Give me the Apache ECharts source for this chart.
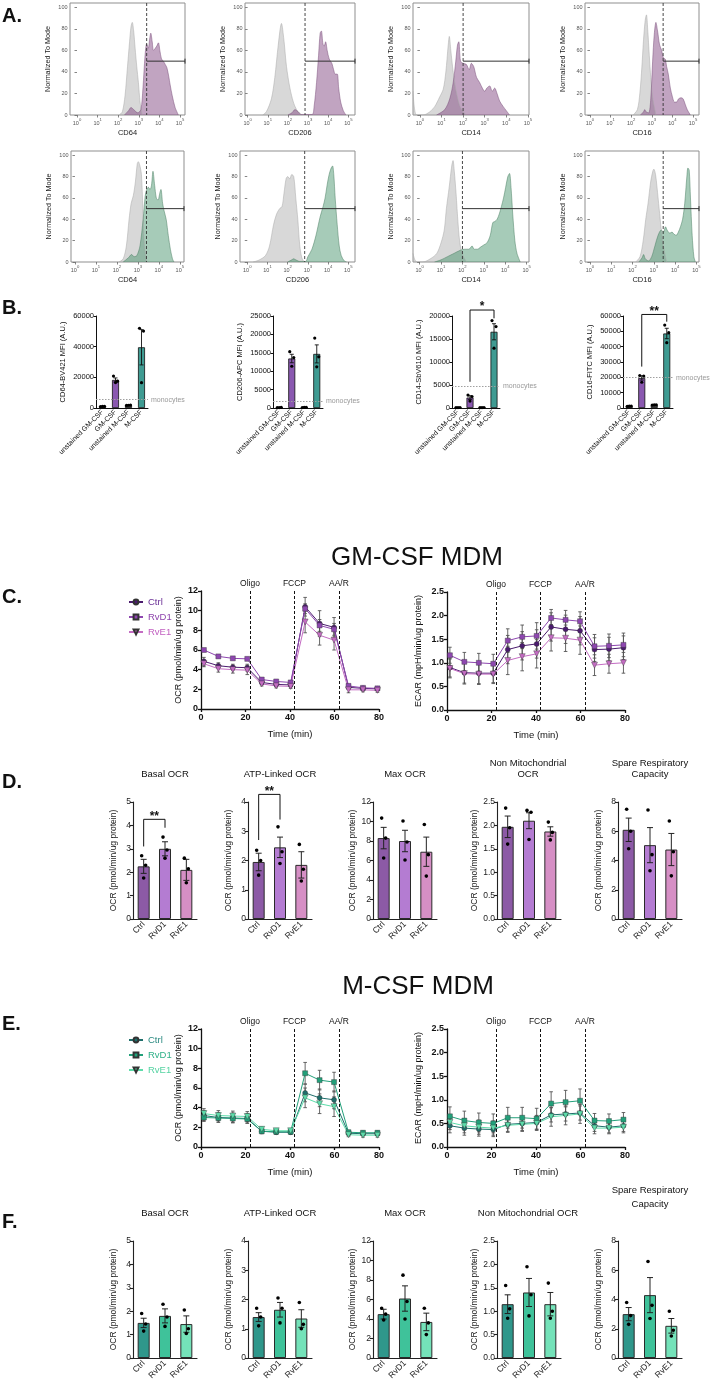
<!DOCTYPE html>
<html>
<head>
<meta charset="utf-8">
<script src="https://cdn.jsdelivr.net/npm/echarts@6/dist/echarts.min.js"></script>
<style>
  html, body { margin: 0; padding: 0; background: #fff; }
  #main { width: 710px; height: 1385px; }
</style>
</head>
<body>
<div id="main"></div>
<script>
// ---------------- data ----------------

// A: flow histograms, x = log10(fluorescence), y = % of mode
const histMarkers = ['CD64', 'CD206', 'CD14', 'CD16'];
const logDecades = [0, 1, 2, 3, 4, 5];
const modeTicks = [0, 20, 40, 60, 80, 100];
const gmHistRange = [[-0.34, 5.24], [-0.13, 5.33], [-0.32, 5.05], [-0.24, 5.29]];
const mHistRange = [[-0.19, 5.2], [-0.36, 5.33], [-0.31, 5.11], [-0.23, 5.12]];
const gmGates = [3.38, 2.85, 2.0, 3.55];
const mGates = [3.41, 2.84, 2.0, 3.44];
const gateLevel = 50;

const gmUnstainedCD64 = [[2.05, 0], [2.2, 3], [2.33, 18], [2.45, 45], [2.55, 68], [2.62, 82], [2.68, 86], [2.75, 78], [2.82, 62], [2.9, 45], [2.98, 30], [3.06, 12], [3.16, 0]];
const gmStainedCD64 = [[2.3, 0], [2.5, 4], [2.62, 7], [2.75, 5], [2.95, 2], [3.1, 5], [3.2, 25], [3.3, 55], [3.38, 66], [3.46, 62], [3.52, 70], [3.58, 76], [3.65, 68], [3.71, 60], [3.8, 62], [3.87, 64], [3.95, 67], [4.02, 60], [4.1, 52], [4.19, 50], [4.28, 47], [4.36, 44], [4.45, 36], [4.52, 28], [4.62, 18], [4.76, 7], [4.92, 0]];
const gmUnstainedCD206 = [[0.75, 0], [0.93, 3], [1.18, 15], [1.35, 35], [1.52, 65], [1.68, 85], [1.8, 70], [1.93, 45], [2.1, 25], [2.27, 12], [2.43, 5], [2.68, 0]];
const gmStainedCD206 = [[2.0, 0], [2.2, 2], [2.35, 5], [2.5, 3], [2.65, 0.5], [3.2, 0.5], [3.3, 8], [3.42, 30], [3.52, 55], [3.6, 76], [3.66, 78], [3.74, 66], [3.8, 64], [3.87, 68], [3.95, 60], [4.05, 52], [4.18, 48], [4.27, 42], [4.35, 38], [4.45, 38], [4.52, 25], [4.62, 12], [4.75, 4], [4.88, 0]];
const gmUnstainedCD14 = [[-0.32, 22], [-0.25, 6], [-0.15, 0], [0.15, 0], [0.46, 3], [0.69, 8], [0.8, 12], [0.92, 17], [1.08, 24], [1.2, 40], [1.31, 65], [1.36, 73], [1.43, 60], [1.54, 40], [1.66, 24], [1.82, 10], [2.0, 3], [2.15, 0]];
const gmStainedCD14 = [[0.77, 0], [1.15, 5], [1.38, 15], [1.54, 30], [1.66, 50], [1.74, 65], [1.8, 68], [1.88, 50], [2.0, 48], [2.15, 47], [2.28, 42], [2.38, 48], [2.49, 45], [2.62, 35], [2.77, 30], [2.89, 25], [3.0, 22], [3.1, 25], [3.23, 27], [3.35, 22], [3.46, 25], [3.57, 20], [3.69, 13], [3.85, 8], [4.0, 4], [4.15, 0]];
const gmUnstainedCD16 = [[2.1, 0], [2.3, 5], [2.42, 20], [2.52, 45], [2.6, 70], [2.68, 88], [2.74, 93], [2.8, 80], [2.88, 55], [2.95, 35], [3.05, 15], [3.2, 0]];
const gmStainedCD16 = [[2.45, 0], [2.6, 3], [2.66, 5], [2.72, 3], [2.85, 2], [2.95, 15], [3.04, 50], [3.12, 75], [3.2, 86], [3.28, 78], [3.38, 65], [3.48, 60], [3.56, 53], [3.65, 52], [3.72, 45], [3.8, 38], [3.9, 25], [4.0, 17], [4.1, 12], [4.2, 12], [4.3, 15], [4.42, 16], [4.52, 15], [4.62, 10], [4.72, 5], [4.87, 0]];

const mUnstainedCD64 = [[2.1, 0], [2.3, 3], [2.45, 15], [2.58, 40], [2.68, 55], [2.78, 62], [2.88, 75], [2.97, 92], [3.02, 94], [3.1, 90], [3.17, 82], [3.24, 50], [3.32, 15], [3.42, 0]];
const mStainedCD64 = [[2.3, 0], [2.55, 4], [2.7, 7], [2.82, 5], [2.95, 6], [3.1, 15], [3.25, 40], [3.35, 62], [3.42, 68], [3.5, 70], [3.58, 68], [3.65, 72], [3.72, 85], [3.8, 72], [3.88, 60], [3.96, 58], [4.05, 65], [4.1, 68], [4.18, 55], [4.25, 48], [4.35, 40], [4.45, 25], [4.55, 12], [4.65, 3], [4.72, 0]];
const mUnstainedCD206 = [[0.3, 0], [0.6, 2], [0.9, 6], [1.1, 15], [1.3, 35], [1.45, 45], [1.6, 50], [1.72, 52], [1.82, 65], [1.92, 78], [2.0, 80], [2.1, 78], [2.2, 82], [2.3, 80], [2.4, 60], [2.5, 40], [2.6, 15], [2.7, 4], [2.82, 0]];
const mStainedCD206 = [[2.0, 0], [2.2, 2], [2.3, 3], [2.4, 2], [2.6, 0.5], [2.88, 0.5], [3.0, 5], [3.2, 12], [3.4, 25], [3.6, 42], [3.75, 52], [3.85, 60], [3.95, 72], [4.05, 82], [4.15, 88], [4.22, 90], [4.28, 82], [4.35, 60], [4.45, 35], [4.55, 15], [4.65, 6], [4.8, 1], [4.92, 0]];
const mUnstainedCD14 = [[-0.31, 8], [-0.22, 2], [-0.12, 0], [0.15, 0], [0.5, 3], [0.8, 8], [1.0, 18], [1.15, 30], [1.25, 50], [1.38, 70], [1.5, 90], [1.56, 95], [1.62, 85], [1.7, 65], [1.8, 35], [1.9, 15], [2.05, 5], [2.2, 0]];
const mStainedCD14 = [[0.7, 0], [1.0, 2], [1.3, 5], [1.6, 8], [1.9, 11], [2.1, 12], [2.3, 12], [2.45, 15], [2.55, 12], [2.7, 12], [2.85, 14], [3.0, 16], [3.15, 18], [3.3, 25], [3.42, 37], [3.52, 38], [3.62, 40], [3.72, 45], [3.82, 52], [3.92, 60], [4.02, 70], [4.12, 80], [4.2, 83], [4.27, 70], [4.35, 45], [4.45, 20], [4.55, 8], [4.7, 0]];
const mUnstainedCD16 = [[2.15, 0], [2.35, 5], [2.5, 20], [2.62, 40], [2.73, 55], [2.85, 75], [2.95, 85], [3.0, 87], [3.08, 82], [3.15, 70], [3.25, 50], [3.35, 30], [3.45, 15], [3.6, 0]];
const mStainedCD16 = [[2.3, 0], [2.45, 4], [2.52, 7], [2.6, 3], [2.75, 1], [2.9, 5], [3.05, 15], [3.2, 25], [3.35, 30], [3.45, 28], [3.55, 33], [3.62, 30], [3.75, 27], [3.85, 28], [3.95, 26], [4.05, 25], [4.15, 28], [4.25, 33], [4.35, 40], [4.45, 55], [4.55, 80], [4.6, 88], [4.66, 86], [4.72, 60], [4.8, 25], [4.88, 5], [4.95, 0]];

// B: MFI bar charts
const mfiCategories = ['unstained GM-CSF', 'GM-CSF', 'unstained M-CSF', 'M-CSF'];
const mfiTitles = ['CD64-BV421 MFI (A.U.)', 'CD206-APC MFI (A.U.)', 'CD14-SbV610 MFI (A.U.)', 'CD16-FITC MFI (A.U.)'];
const mfiMax = [60000, 25000, 20000, 60000];
const mfiStep = [20000, 5000, 5000, 10000];
const cd64Mfi = [1000, 18300, 1800, 39600];
const cd64Sem = [150, 1300, 150, 11500];
const cd64Dots = [[900, 1100, 1000], [20800, 17500, 16600], [1700, 1900, 1800], [52000, 50200, 16500]];
const cd206Mfi = [120, 13450, 150, 14700];
const cd206Sem = [30, 1150, 40, 2450];
const cd206Dots = [[100, 150, 110], [15300, 13700, 11350], [130, 170, 150], [19000, 13900, 11200]];
const cd14Mfi = [100, 2270, 100, 16570];
const cd14Sem = [20, 400, 20, 1750];
const cd14Dots = [[90, 110, 100], [2800, 2500, 1500], [90, 110, 100], [19000, 17700, 13000]];
const cd16Mfi = [1200, 19600, 2000, 48600];
const cd16Sem = [100, 1400, 150, 3400];
const cd16Dots = [[1100, 1300, 1200], [21200, 20800, 16800], [1900, 2100, 2000], [54100, 49100, 42600]];
const monocyteMfi = [5500, 1750, 4800, 19800];
const cd14Signif = {from: 1, to: 3, top: 21300, left: 5700, right: 19500, mark: '*'};
const cd16Signif = {from: 1, to: 3, top: 61000, left: 27000, right: 56300, mark: '**'};

// C / E: Seahorse kinetics
const seahorseTimes = [1.3, 7.8, 14.3, 20.8, 27.3, 33.8, 40.3, 46.8, 53.3, 59.8, 66.3, 72.8, 79.3];
const injectionTimes = [22, 42, 62];
const injectionLabels = ['Oligo', 'FCCP', 'AA/R'];
const treatments = ['Ctrl', 'RvD1', 'RvE1'];

const gmOcrCtrl = [4.85, 4.4, 4.25, 4.2, 2.7, 2.5, 2.45, 10.4, 8.7, 8.3, 2.2, 2.1, 2.05];
const gmOcrRvD1 = [6.0, 5.35, 5.15, 5.1, 3.0, 2.8, 2.7, 10.2, 8.5, 8.1, 2.35, 2.15, 2.1];
const gmOcrRvE1 = [4.6, 4.1, 4.0, 3.95, 2.55, 2.35, 2.3, 8.85, 7.5, 7.0, 1.95, 1.95, 1.9];
const gmOcrCtrlSem = [0.4, 0.3, 0.3, 0.35, 0.2, 0.2, 0.2, 0.95, 1.3, 1.0, 0.2, 0.15, 0.15];
const gmOcrRvD1Sem = [0.15, 0.15, 0.12, 0.15, 0.2, 0.15, 0.15, 0.5, 0.6, 0.6, 0.15, 0.12, 0.12];
const gmOcrRvE1Sem = [0.3, 0.35, 0.35, 0.45, 0.2, 0.2, 0.2, 1.1, 1.0, 1.0, 0.3, 0.2, 0.2];
const gmEcarCtrl = [0.9, 0.79, 0.78, 0.78, 1.28, 1.36, 1.4, 1.76, 1.71, 1.68, 1.28, 1.29, 1.32];
const gmEcarRvD1 = [1.16, 1.02, 1.0, 0.98, 1.47, 1.55, 1.57, 1.95, 1.91, 1.88, 1.35, 1.36, 1.38];
const gmEcarRvE1 = [0.88, 0.77, 0.76, 0.76, 1.05, 1.13, 1.19, 1.53, 1.52, 1.48, 0.95, 0.98, 1.0];
const gmEcarCtrlSem = [0.2, 0.22, 0.22, 0.2, 0.3, 0.3, 0.3, 0.3, 0.3, 0.3, 0.25, 0.25, 0.25];
const gmEcarRvD1Sem = [0.17, 0.2, 0.2, 0.2, 0.25, 0.25, 0.28, 0.18, 0.2, 0.2, 0.25, 0.25, 0.25];
const gmEcarRvE1Sem = [0.2, 0.22, 0.22, 0.2, 0.3, 0.3, 0.3, 0.28, 0.28, 0.3, 0.22, 0.2, 0.22];

const mOcrCtrl = [3.2, 3.0, 2.95, 2.9, 1.6, 1.5, 1.5, 5.5, 5.0, 4.8, 1.4, 1.35, 1.35];
const mOcrRvD1 = [3.0, 2.95, 2.9, 2.85, 1.6, 1.55, 1.55, 7.5, 6.8, 6.6, 1.5, 1.45, 1.45];
const mOcrRvE1 = [3.4, 3.2, 3.15, 3.1, 1.8, 1.65, 1.65, 5.0, 4.4, 4.1, 1.25, 1.2, 1.2];
const mOcrCtrlSem = [0.5, 0.5, 0.5, 0.5, 0.25, 0.2, 0.2, 0.9, 0.9, 0.9, 0.2, 0.2, 0.2];
const mOcrRvD1Sem = [0.4, 0.4, 0.4, 0.4, 0.2, 0.2, 0.2, 1.1, 1.0, 1.0, 0.2, 0.2, 0.2];
const mOcrRvE1Sem = [0.5, 0.5, 0.5, 0.5, 0.25, 0.2, 0.2, 1.0, 1.0, 1.0, 0.2, 0.2, 0.2];
const mEcarCtrl = [0.45, 0.4, 0.38, 0.37, 0.48, 0.5, 0.52, 0.68, 0.7, 0.72, 0.45, 0.42, 0.45];
const mEcarRvD1 = [0.65, 0.56, 0.52, 0.5, 0.62, 0.62, 0.6, 0.92, 0.95, 0.98, 0.56, 0.55, 0.58];
const mEcarRvE1 = [0.52, 0.45, 0.42, 0.4, 0.46, 0.48, 0.5, 0.64, 0.67, 0.7, 0.4, 0.4, 0.42];
const mEcarCtrlSem = [0.15, 0.15, 0.15, 0.15, 0.15, 0.15, 0.15, 0.15, 0.15, 0.15, 0.12, 0.12, 0.12];
const mEcarRvD1Sem = [0.2, 0.2, 0.2, 0.2, 0.22, 0.22, 0.22, 0.25, 0.25, 0.25, 0.15, 0.15, 0.15];
const mEcarRvE1Sem = [0.15, 0.15, 0.15, 0.15, 0.15, 0.15, 0.15, 0.2, 0.2, 0.2, 0.12, 0.12, 0.12];

// D / F: derived OCR parameters
const paramTitles = ['Basal OCR', 'ATP-Linked OCR', 'Max OCR', 'Non Mitochondrial\nOCR', 'Spare Respiratory\nCapacity'];
const paramTitlesM = ['Basal OCR', 'ATP-Linked OCR', 'Max OCR', 'Non Mitochondrial OCR', 'Spare Respiratory\nCapacity'];
const paramMax = [5, 4, 12, 2.5, 8];
const paramStep = [1, 1, 2, 0.5, 2];

const gmBasal = [2.25, 3.0, 2.1], gmBasalSem = [0.3, 0.3, 0.45];
const gmBasalDots = [[2.7, 2.3, 1.75], [3.5, 2.95, 2.6], [2.6, 2.15, 1.55]];
const gmAtp = [1.95, 2.45, 1.85], gmAtpSem = [0.3, 0.35, 0.45];
const gmAtpDots = [[2.35, 2.0, 1.5], [3.15, 2.3, 1.9], [2.55, 1.7, 1.3]];
const gmMax = [8.3, 8.0, 6.9], gmMaxSem = [1.1, 1.1, 1.5];
const gmMaxDots = [[10.35, 8.3, 6.25], [10.05, 7.9, 6.05], [9.7, 6.6, 4.4]];
const gmNonMito = [1.97, 2.1, 1.87], gmNonMitoSem = [0.23, 0.17, 0.1];
const gmNonMitoDots = [[2.37, 1.95, 1.6], [2.32, 2.28, 1.7], [2.07, 1.85, 1.69]];
const gmSpare = [6.1, 5.05, 4.75], gmSpareSem = [0.8, 1.2, 1.1];
const gmSpareDots = [[7.5, 6.0, 4.8], [7.45, 4.4, 3.3], [6.7, 4.6, 2.95]];
const gmBasalSignif = {from: 0, to: 1, top: 4.26, left: 3.1, right: 3.9, mark: '**'};
const gmAtpSignif = {from: 0, to: 1, top: 4.26, left: 2.7, right: 3.4, mark: '**'};

const mBasal = [1.5, 1.8, 1.45], mBasalSem = [0.2, 0.3, 0.35];
const mBasalDots = [[1.9, 1.45, 1.15], [2.3, 1.75, 1.35], [2.05, 1.25, 1.05]];
const mAtp = [1.4, 1.65, 1.35], mAtpSem = [0.15, 0.25, 0.3];
const mAtpDots = [[1.7, 1.4, 1.1], [2.05, 1.7, 1.2], [1.9, 1.15, 1.0]];
const mMax = [4.5, 6.1, 3.7], mMaxSem = [0.5, 1.3, 0.9];
const mMaxDots = [[5.1, 4.5, 3.9], [8.5, 5.8, 4.0], [5.1, 3.6, 2.4]];
const mNonMito = [1.15, 1.4, 1.15], mNonMitoSem = [0.2, 0.3, 0.25];
const mNonMitoDots = [[1.55, 1.05, 0.85], [1.95, 1.35, 0.9], [1.6, 1.0, 0.85]];
const mSpare = [3.0, 4.3, 2.2], mSpareSem = [0.45, 1.2, 0.5];
const mSpareDots = [[3.8, 2.9, 2.3], [6.6, 3.6, 2.7], [3.2, 1.9, 1.5]];

// ---------------- styles / layout ----------------
const FONT = '"Liberation Sans", Arial, Helvetica, sans-serif';
const GM_FILL = 'rgba(128,70,128,0.7)', GM_EDGE = '#7a4f7a';
const M_FILL = 'rgba(60,140,100,0.65)', M_EDGE = '#4a7f62';
const mfiColors = ['#4d4d4d', '#8a58b0', '#4d4d4d', '#3f9b92'];
const gmLineColors = ['#4b1b6e', '#8e47b0', '#c46cc3'];
const gmLegendText = ['#6a2f96', '#8e44ad', '#c15fc0'];
const mLineColors = ['#1e6e6b', '#22a07a', '#5ddcaa'];
const mLegendText = ['#2a8a80', '#2fb088', '#55d3a2'];
const gmBarColors = ['#8c5aa6', '#b47cd2', '#d68fc5'];
const mBarColors = ['#2f978b', '#3fc29a', '#74e2b9'];
const lineSymbols = ['circle', 'rect', 'triangle'];
const lineSymbolRotate = [0, 0, 180];
const dotJitter = [-2, 2, 0];

const grid = [], xAxis = [], yAxis = [], series = [], graphic = [];

function addGrid(g, xa, ya) {
  const i = grid.length;
  grid.push(g);
  xAxis.push(Object.assign({gridIndex: i}, xa));
  yAxis.push(Object.assign({gridIndex: i}, ya));
  return i;
}

function errorBars(i, data, color, cap, width, z) {
  return {
    type: 'custom', xAxisIndex: i, yAxisIndex: i, silent: true, z: z, data: data,
    renderItem: (params, api) => {
      const lo = api.coord([api.value(0), api.value(1)]);
      const hi = api.coord([api.value(0), api.value(2)]);
      const st = {stroke: color, lineWidth: width};
      return {type: 'group', children: [
        {type: 'line', shape: {x1: lo[0], y1: lo[1], x2: hi[0], y2: hi[1]}, style: st},
        {type: 'line', shape: {x1: hi[0] - cap, y1: hi[1], x2: hi[0] + cap, y2: hi[1]}, style: st},
        {type: 'line', shape: {x1: lo[0] - cap, y1: lo[1], x2: lo[0] + cap, y2: lo[1]}, style: st}
      ]};
    }
  };
}

function dotSeries(i, dots, r) {
  const data = [];
  dots.forEach((vals, k) => vals.forEach((v, j) => data.push([k, v, j])));
  return {
    type: 'custom', xAxisIndex: i, yAxisIndex: i, silent: true, z: 6, data: data,
    renderItem: (params, api) => {
      const c = api.coord([api.value(0), api.value(1)]);
      return {type: 'circle', shape: {cx: c[0] + dotJitter[api.value(2)], cy: c[1], r: r}, style: {fill: '#000'}};
    }
  };
}

function bracketSeries(i, b) {
  return {
    type: 'custom', xAxisIndex: i, yAxisIndex: i, silent: true, z: 7, clip: false,
    data: [[b.from, b.to, b.top, b.left, b.right]],
    renderItem: (params, api) => {
      const a = api.coord([api.value(0), api.value(3)]);
      const t1 = api.coord([api.value(0), api.value(2)]);
      const t2 = api.coord([api.value(1), api.value(2)]);
      const c = api.coord([api.value(1), api.value(4)]);
      return {type: 'group', children: [
        {type: 'polyline', shape: {points: [a, t1, t2, c]}, style: {stroke: '#111', lineWidth: 1, fill: null}},
        {type: 'text', style: {text: b.mark, x: (t1[0] + t2[0]) / 2, y: t1[1] + 3, align: 'center', verticalAlign: 'bottom',
          fontFamily: FONT, fontSize: 12, fontWeight: 'bold', fill: '#111'}}
      ]};
    }
  };
}

// ---- A: histograms ----
const supRich = {
  b: {fontFamily: FONT, fontSize: 5.5, color: '#555', lineHeight: 9, verticalAlign: 'bottom'},
  s: {fontFamily: FONT, fontSize: 4.2, color: '#555', lineHeight: 9, verticalAlign: 'top'}
};

function histogram(box, range, marker, unstained, stained, gate, fill, edge) {
  const i = addGrid(
    {left: box[0], top: box[1], width: box[2], height: box[3], show: true, borderColor: '#8f8f8f', borderWidth: 1},
    {type: 'value', min: range[0], max: range[1], name: marker, nameLocation: 'middle', nameGap: 14,
      nameTextStyle: {fontFamily: FONT, fontSize: 7.5, color: '#222'},
      axisLine: {show: false}, splitLine: {show: false},
      axisTick: {show: true, customValues: logDecades, length: 2.5, lineStyle: {color: '#666', width: 0.8}},
      axisLabel: {customValues: logDecades, margin: 2.5, formatter: v => '{b|10}{s|' + v + '}', rich: supRich}},
    {type: 'value', min: 0, max: 104, name: 'Normalized To Mode', nameLocation: 'middle', nameGap: 18,
      nameTextStyle: {fontFamily: FONT, fontSize: 7.2, color: '#222'},
      axisLine: {show: false}, splitLine: {show: false},
      axisTick: {show: true, customValues: modeTicks, length: 2.5, lineStyle: {color: '#666', width: 0.8}},
      axisLabel: {customValues: modeTicks, margin: 2.5, fontFamily: FONT, fontSize: 5.5, color: '#555'}}
  );
  series.push({type: 'line', xAxisIndex: i, yAxisIndex: i, data: unstained, smooth: 0.3, symbol: 'none', silent: true,
    lineStyle: {color: '#a8a8a8', width: 0.5}, areaStyle: {color: 'rgba(170,170,170,0.65)'}});
  series.push({type: 'line', xAxisIndex: i, yAxisIndex: i, data: stained, smooth: 0.3, symbol: 'none', silent: true,
    lineStyle: {color: edge, width: 0.5}, areaStyle: {color: fill}});
  series.push({
    type: 'custom', xAxisIndex: i, yAxisIndex: i, silent: true, z: 5, data: [[gate, gateLevel]],
    renderItem: (params, api) => {
      const cs = params.coordSys;
      const p = api.coord([api.value(0), api.value(1)]);
      const right = cs.x + cs.width;
      const st = {stroke: '#333', lineWidth: 1};
      return {type: 'group', children: [
        {type: 'line', shape: {x1: p[0], y1: cs.y, x2: p[0], y2: cs.y + cs.height}, style: {stroke: '#333', lineWidth: 0.9, lineDash: [3, 2]}},
        {type: 'line', shape: {x1: p[0], y1: p[1], x2: right, y2: p[1]}, style: st},
        {type: 'line', shape: {x1: right, y1: p[1] - 2.5, x2: right, y2: p[1] + 2.5}, style: st}
      ]};
    }
  });
}

const gmHistData = [[gmUnstainedCD64, gmStainedCD64], [gmUnstainedCD206, gmStainedCD206], [gmUnstainedCD14, gmStainedCD14], [gmUnstainedCD16, gmStainedCD16]];
const mHistData = [[mUnstainedCD64, mStainedCD64], [mUnstainedCD206, mStainedCD206], [mUnstainedCD14, mStainedCD14], [mUnstainedCD16, mStainedCD16]];
const histTopBoxes = [[70, 3, 115, 112], [245, 3, 110, 112], [413, 3, 116, 112], [585, 3, 114, 112]];
const histBottomBoxes = [[71, 151, 113, 111], [240, 151, 115, 111], [413, 151, 116, 111], [585, 151, 114, 111]];
histMarkers.forEach((m, k) => {
  histogram(histTopBoxes[k], gmHistRange[k], m, gmHistData[k][0], gmHistData[k][1], gmGates[k], GM_FILL, GM_EDGE);
});
histMarkers.forEach((m, k) => {
  histogram(histBottomBoxes[k], mHistRange[k], m, mHistData[k][0], mHistData[k][1], mGates[k], M_FILL, M_EDGE);
});

// ---- B: MFI bars ----
const mfiMeans = [cd64Mfi, cd206Mfi, cd14Mfi, cd16Mfi];
const mfiSems = [cd64Sem, cd206Sem, cd14Sem, cd16Sem];
const mfiDots = [cd64Dots, cd206Dots, cd14Dots, cd16Dots];
const mfiSignif = [null, null, cd14Signif, cd16Signif];
const mfiBoxes = [[96, 52], [273, 50], [452, 48], [623, 50]];

mfiTitles.forEach((title, k) => {
  const i = addGrid(
    {left: mfiBoxes[k][0], top: 316, width: mfiBoxes[k][1], height: 92},
    {type: 'category', data: mfiCategories,
      axisLine: {lineStyle: {color: '#111', width: 1}},
      axisTick: {alignWithLabel: true, length: 2.5, lineStyle: {color: '#111'}},
      axisLabel: {rotate: 45, interval: 0, margin: 3, fontFamily: FONT, fontSize: 7, color: '#111'}},
    {type: 'value', min: 0, max: mfiMax[k], interval: mfiStep[k], name: title, nameLocation: 'middle', nameGap: 29,
      nameTextStyle: {fontFamily: FONT, fontSize: 7.5, color: '#111'},
      axisLine: {show: true, lineStyle: {color: '#111', width: 1}},
      axisTick: {show: true, length: 2.5, lineStyle: {color: '#111'}},
      axisLabel: {margin: 2, fontFamily: FONT, fontSize: 7.5, color: '#111', formatter: v => String(v)},
      splitLine: {show: false}}
  );
  series.push({
    type: 'bar', xAxisIndex: i, yAxisIndex: i, barWidth: 7, silent: true,
    data: mfiMeans[k].map((v, j) => ({value: v, itemStyle: {color: mfiColors[j]}})),
    itemStyle: {borderColor: '#111', borderWidth: 0.8},
    markLine: {silent: true, symbol: 'none', data: [{yAxis: monocyteMfi[k]}],
      lineStyle: {type: [1.5, 1.5], color: '#a0a0a0', width: 1},
      label: {show: true, position: 'end', formatter: 'monocytes', distance: 3, fontFamily: FONT, fontSize: 7, color: '#999'}}
  });
  series.push(errorBars(i, mfiMeans[k].map((v, j) => [j, v - mfiSems[k][j], v + mfiSems[k][j]]), '#111', 2, 0.9, 5));
  series.push(dotSeries(i, mfiDots[k], 1.6));
  if (mfiSignif[k]) series.push(bracketSeries(i, mfiSignif[k]));
});

// ---- C / E: kinetics ----
function kinetic(left, top, yMax, yStep, yName, nameGap, names, vals, sems, colors, decimals) {
  const i = addGrid(
    {left: left, top: top, width: 178, height: 118},
    {type: 'value', min: 0, max: 80, interval: 20, name: 'Time (min)', nameLocation: 'middle', nameGap: 20,
      nameTextStyle: {fontFamily: FONT, fontSize: 9.5, color: '#111'},
      axisLine: {lineStyle: {color: '#111', width: 1.3}},
      axisTick: {length: 3, lineStyle: {color: '#111', width: 1.3}},
      axisLabel: {fontFamily: FONT, fontSize: 9, fontWeight: 'bold', color: '#111', margin: 4}, splitLine: {show: false}},
    {type: 'value', min: 0, max: yMax, interval: yStep, name: yName, nameLocation: 'middle', nameGap: nameGap,
      nameTextStyle: {fontFamily: FONT, fontSize: 9, color: '#111'},
      axisLine: {show: true, lineStyle: {color: '#111', width: 1.3}},
      axisTick: {show: true, length: 3, lineStyle: {color: '#111', width: 1.3}},
      axisLabel: {fontFamily: FONT, fontSize: 9, fontWeight: 'bold', color: '#111', margin: 3,
        formatter: v => decimals ? v.toFixed(1) : String(v)}, splitLine: {show: false}}
  );
  vals.forEach((v, k) => {
    series.push(errorBars(i, seahorseTimes.map((t, j) => [t, v[j] - sems[k][j], v[j] + sems[k][j]]), '#555', 1.8, 0.9, 2));
    const s = {
      type: 'line', name: names[k], xAxisIndex: i, yAxisIndex: i, z: 3,
      data: seahorseTimes.map((t, j) => [t, v[j]]),
      symbol: lineSymbols[k], symbolSize: k === 2 ? 6 : 5, symbolRotate: lineSymbolRotate[k],
      lineStyle: {color: colors[k], width: 1}, itemStyle: {color: colors[k], borderColor: '#333', borderWidth: 0.4}
    };
    if (k === 0) {
      s.markLine = {silent: true, symbol: 'none',
        data: injectionTimes.map((t, j) => ({xAxis: t, label: {formatter: injectionLabels[j]}})),
        lineStyle: {type: [3, 2], color: '#111', width: 1},
        label: {show: true, position: 'end', distance: 3, fontFamily: FONT, fontSize: 8.5, color: '#111'}};
    }
    series.push(s);
  });
  return i;
}

const gmNames = ['Ctrl', 'RvD1', 'RvE1'];
const mNames = ['Ctrl ', 'RvD1 ', 'RvE1 '];
kinetic(201, 591, 12, 2, 'OCR (pmol/min/ug protein)', 18, gmNames,
  [gmOcrCtrl, gmOcrRvD1, gmOcrRvE1], [gmOcrCtrlSem, gmOcrRvD1Sem, gmOcrRvE1Sem], gmLineColors, false);
kinetic(447, 592, 2.5, 0.5, 'ECAR (mpH/min/ug protein)', 24, gmNames,
  [gmEcarCtrl, gmEcarRvD1, gmEcarRvE1], [gmEcarCtrlSem, gmEcarRvD1Sem, gmEcarRvE1Sem], gmLineColors, true);
kinetic(201, 1029, 12, 2, 'OCR (pmol/min/ug protein)', 18, mNames,
  [mOcrCtrl, mOcrRvD1, mOcrRvE1], [mOcrCtrlSem, mOcrRvD1Sem, mOcrRvE1Sem], mLineColors, false);
kinetic(447, 1029, 2.5, 0.5, 'ECAR (mpH/min/ug protein)', 24, mNames,
  [mEcarCtrl, mEcarRvD1, mEcarRvE1], [mEcarCtrlSem, mEcarRvD1Sem, mEcarRvE1Sem], mLineColors, true);

// ---- D / F: parameter bars ----
const paramLefts = [133, 248, 373, 497, 618];
function paramPanel(k, top, vals, sem, dots, colors, signif) {
  const i = addGrid(
    {left: paramLefts[k], top: top, width: 64, height: 117},
    {type: 'category', data: treatments,
      axisLine: {lineStyle: {color: '#222', width: 1.1}},
      axisTick: {alignWithLabel: true, length: 3, lineStyle: {color: '#222', width: 1.1}},
      axisLabel: {rotate: 45, interval: 0, margin: 4, fontFamily: FONT, fontSize: 8.5, color: '#222'}},
    {type: 'value', min: 0, max: paramMax[k], interval: paramStep[k], name: 'OCR (pmol/min/ug protein)',
      nameLocation: 'middle', nameGap: 15, nameTextStyle: {fontFamily: FONT, fontSize: 8.5, color: '#222'},
      axisLine: {show: true, lineStyle: {color: '#222', width: 1.1}},
      axisTick: {show: true, length: 3, lineStyle: {color: '#222', width: 1.1}},
      axisLabel: {margin: 2, fontFamily: FONT, fontSize: 8.5, color: '#222',
        formatter: v => paramStep[k] < 1 ? v.toFixed(1) : String(v)}, splitLine: {show: false}}
  );
  series.push({type: 'bar', xAxisIndex: i, yAxisIndex: i, barWidth: 12, silent: true,
    data: vals.map((v, j) => ({value: v, itemStyle: {color: colors[j]}})),
    itemStyle: {borderColor: '#2a2a2a', borderWidth: 1}});
  series.push(errorBars(i, vals.map((v, j) => [j, v - sem[j], v + sem[j]]), '#222', 3, 1, 5));
  series.push(dotSeries(i, dots, 1.8));
  if (signif) series.push(bracketSeries(i, signif));
}

[[gmBasal, gmBasalSem, gmBasalDots, gmBasalSignif], [gmAtp, gmAtpSem, gmAtpDots, gmAtpSignif],
 [gmMax, gmMaxSem, gmMaxDots, null], [gmNonMito, gmNonMitoSem, gmNonMitoDots, null],
 [gmSpare, gmSpareSem, gmSpareDots, null]].forEach((p, k) => paramPanel(k, 802, p[0], p[1], p[2], gmBarColors, p[3]));
[[mBasal, mBasalSem, mBasalDots], [mAtp, mAtpSem, mAtpDots], [mMax, mMaxSem, mMaxDots],
 [mNonMito, mNonMitoSem, mNonMitoDots], [mSpare, mSpareSem, mSpareDots]].forEach((p, k) => paramPanel(k, 1241, p[0], p[1], p[2], mBarColors, null));

// ---- text ----
function label(text, x, y, size, opts) {
  graphic.push({type: 'text', x: x, y: y, silent: true, style: Object.assign({
    text: text, fontFamily: FONT, fontSize: size, fill: '#111', align: 'left', verticalAlign: 'middle'}, opts || {})});
}
label('A.', 2, 16, 20, {fontWeight: 'bold'});
label('B.', 2, 308, 20, {fontWeight: 'bold'});
label('C.', 2, 597, 20, {fontWeight: 'bold'});
label('D.', 2, 782, 20, {fontWeight: 'bold'});
label('E.', 2, 1024, 20, {fontWeight: 'bold'});
label('F.', 2, 1222, 20, {fontWeight: 'bold'});
label('GM-CSF MDM', 417, 558, 26, {align: 'center'});
label('M-CSF MDM', 418, 987, 26, {align: 'center'});
const paramCenters = [165, 280, 405, 528, 650];
paramTitles.forEach((t, k) => label(t, paramCenters[k], 780, 9.5, {align: 'center', verticalAlign: 'bottom', lineHeight: 11}));
paramTitlesM.forEach((t, k) => label(t, paramCenters[k], k === 4 ? 1211 : 1220, 9.5, {align: 'center', verticalAlign: 'bottom', lineHeight: 14}));

const legendBase = {orient: 'vertical', itemGap: 5, itemWidth: 14, itemHeight: 6, selectedMode: false,
  textStyle: {fontFamily: FONT, fontSize: 9.5}};
const chart = echarts.init(document.getElementById('main'));
chart.setOption({
  animation: false,
  backgroundColor: '#fff',
  textStyle: {fontFamily: FONT},
  legend: [
    Object.assign({left: 123, top: 592, data: gmNames.map((n, k) => ({name: n, textStyle: {color: gmLegendText[k]}}))}, legendBase),
    Object.assign({left: 123, top: 1030, data: mNames.map((n, k) => ({name: n, textStyle: {color: mLegendText[k]}}))}, legendBase)
  ],
  grid: grid,
  xAxis: xAxis,
  yAxis: yAxis,
  series: series,
  graphic: graphic
});
</script>
</body>
</html>
